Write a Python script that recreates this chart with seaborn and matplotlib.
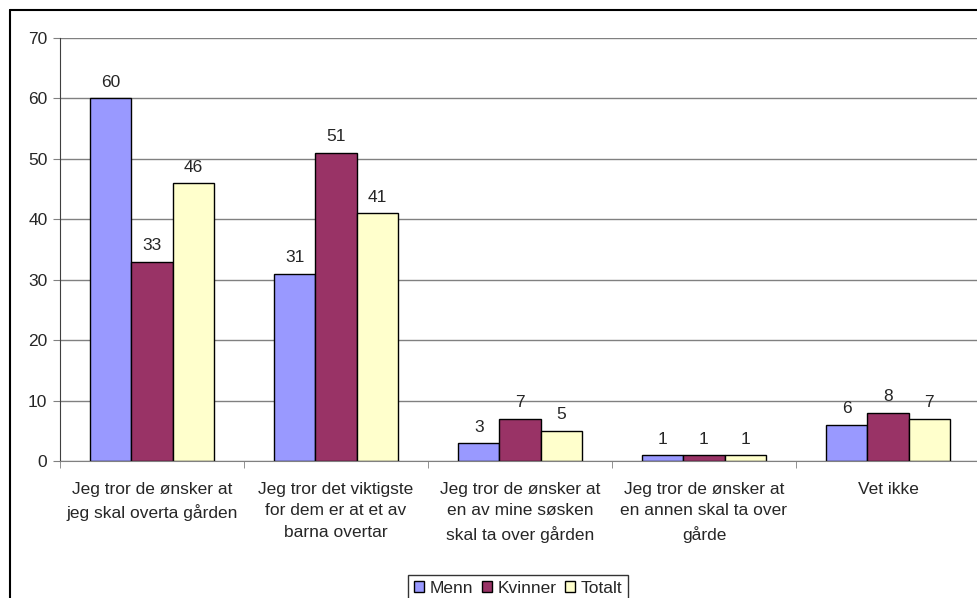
import seaborn as sns
import pandas as pd
import matplotlib.pyplot as plt
from matplotlib.lines import Line2D
from matplotlib.ticker import FixedLocator

categories = [
    'Jeg tror de ønsker at\njeg skal overta gården',
    'Jeg tror det viktigste\nfor dem er at et av\nbarna overtar',
    'Jeg tror de ønsker at\nen av mine søsken\nskal ta over gården',
    'Jeg tror de ønsker at\nen annen skal ta over\ngårde',
    'Vet ikke',
]
menn = [60, 31, 3, 1, 6]
kvinner = [33, 51, 7, 1, 8]
totalt = [46, 41, 5, 1, 7]
groups = ['Menn', 'Kvinner', 'Totalt']
colors = ['#9999FF', '#993366', '#FFFFCC']

df = pd.DataFrame({
    'kategori': categories * 3,
    'gruppe': [g for g in groups for _ in categories],
    'verdi': menn + kvinner + totalt,
})

sns.set_style('white')
plt.rcParams['font.family'] = ['Liberation Sans', 'DejaVu Sans']
plt.rcParams['font.size'] = 12.5

fig = plt.figure(figsize=(9.78, 5.98), dpi=100)
ax = fig.add_axes([60 / 978, 1 - 461 / 598, 920 / 978, (461 - 38) / 598])

sns.barplot(data=df, x='kategori', y='verdi', hue='gruppe', order=categories,
            hue_order=groups, palette=colors, edgecolor='black', linewidth=1,
            width=0.67, gap=0, saturation=1, ax=ax, legend=False)

for cont in ax.containers:
    ax.bar_label(cont, padding=6, fontsize=12.5)

ax.set_ylim(0, 70)
ax.set_xlim(-0.5, 4.5)
ax.set_yticks(range(0, 71, 10))
ax.yaxis.grid(True, color='#808080', linewidth=1)
ax.set_axisbelow(True)
ax.set_xlabel('')
ax.set_ylabel('')
ax.tick_params(axis='x', which='major', length=0, pad=15)
ax.xaxis.set_minor_locator(FixedLocator([-0.5, 0.5, 1.5, 2.5, 3.5, 4.5]))
ax.tick_params(axis='x', which='minor', length=5, color='#808080', direction='out', bottom=True)
ax.tick_params(axis='y', length=5, color='#808080', direction='out', left=True, pad=4)
for lbl in ax.get_xticklabels():
    lbl.set_multialignment('center')
    lbl.set_linespacing(1.55)
sns.despine(ax=ax, top=True, right=True)
ax.spines['left'].set_color('#404040')
ax.spines['bottom'].set_color('#808080')

handles = [plt.Rectangle((0, 0), 1, 1, facecolor=c, edgecolor='black', linewidth=1) for c in colors]
leg = fig.legend(handles, groups, loc='upper center', bbox_to_anchor=(518 / 978, 1 - 566 / 598),
                 ncol=3, frameon=True, fancybox=False, edgecolor='black', fontsize=12.5,
                 handlelength=0.6, handleheight=0.6, handletextpad=0.3, columnspacing=0.5,
                 borderpad=0.35)
leg.get_frame().set_linewidth(1)

# outer chart border (only left and top visible)
fig.add_artist(Line2D([9.5 / 978, 9.5 / 978], [0, 1 - 9.5 / 598], color='black', linewidth=1.5))
fig.add_artist(Line2D([9.5 / 978, 1], [1 - 9.5 / 598, 1 - 9.5 / 598], color='black', linewidth=1.5))

fig.savefig('out.png', dpi=100)
